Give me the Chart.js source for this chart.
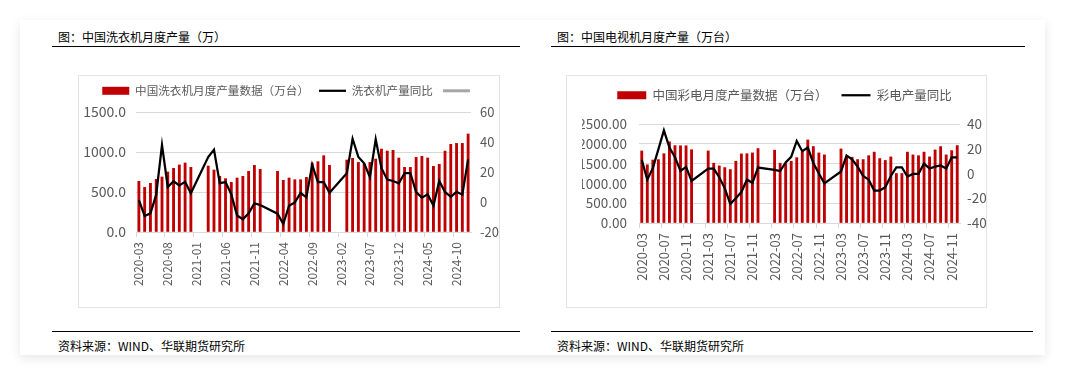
<!DOCTYPE html>
<html>
<head>
<meta charset="utf-8">
<script src="https://cdn.jsdelivr.net/npm/chart.js@4.4.1/dist/chart.umd.min.js"></script>
<style>
    body { margin: 0; width: 1065px; height: 376px; background: #fff; position: relative; overflow: hidden; font-family: "Noto Sans CJK SC", sans-serif; }
    .card { position: absolute; left: 20px; top: 20px; width: 1025px; height: 335px; background: #fff; box-shadow: 0 3px 10px rgba(0, 0, 0, 0.10); }
    .title { position: absolute; font-size: 12px; line-height: 16px; color: #000; white-space: nowrap; }
    .rule { position: absolute; height: 0; border-top: 1.5px solid #000; }
    .frame { position: absolute; border: 1px solid #e3e3e3; box-sizing: border-box; }
    canvas { position: absolute; }
</style>
</head>
<body>
<div class="card"></div>

<div class="title" style="left:58px; top:29px;">图：中国洗衣机月度产量（万）</div>
<div class="rule" style="left:52px; top:46px; width:468px;"></div>
<div class="frame" style="left:78px; top:75px; width:422px; height:233px;"></div>
<canvas id="washer" width="422" height="233" style="left:78px; top:75px;"></canvas>
<div class="rule" style="left:52px; top:331px; width:468px;"></div>
<div class="title" style="left:58px; top:338px;">资料来源：WIND、华联期货研究所</div>

<div class="title" style="left:557px; top:29px;">图：中国电视机月度产量（万台）</div>
<div class="rule" style="left:551px; top:46px; width:474px;"></div>
<div class="frame" style="left:566px; top:75px; width:421px; height:233px;"></div>
<canvas id="tv" width="421" height="233" style="left:566px; top:75px;"></canvas>
<div class="rule" style="left:551px; top:331px; width:482px;"></div>
<div class="title" style="left:557px; top:338px;">资料来源：WIND、华联期货研究所</div>

<script>
// months 2020-03 .. 2024-12 (Jan/Feb of 2021-2023 have no data)
const months = [];
for (let y = 2020; y <= 2024; y++) {
    for (let m = 1; m <= 12; m++) {
        if (y === 2020 && m < 3) continue;
        months.push(y + '-' + String(m).padStart(2, '0'));
    }
}

// washing machine output, 万台
const washerOutput = [
    633, 558, 608, 658, 688, 750, 796, 838, 863, 808,
    null, null, 825, 775, 696, 667, 621, 675, 696, 758, 833, 783,
    null, null, 758, 646, 675, 654, 654, 683, 863, 879, 954, 833,
    null, null, 900, 921, 870, 850, 870, 912, 1037, 1012, 1021, 925,
    808, 808, 933, 946, 925, 821, 846, 1012, 1096, 1108, 1108, 1225
];
// washing machine output yoy, %
const washerYoy = [
    1.3, -9.3, -7.6, 4.9, 38.1, 10.0, 13.8, 11.0, 13.4, 5.8,
    null, null, 30.0, 34.9, 12.6, 13.3, 5.1, -9.0, -11.5, -7.5, -0.9, -2.0,
    null, null, -7.8, -14.7, -2.5, -0.3, 6.0, 3.1, 24.8, 13.3, 13.3, 6.2,
    null, null, 19.1, 42.2, 30.0, 25.8, 16.6, 41.8, 22.5, 15.0, 14.0, 12.4,
    19.2, 19.2, 6.6, 2.9, 5.1, -2.5, 14.0, 6.6, 3.5, 6.8, 4.9, 28.4
];

// colour TV output, 万台
const tvOutput = [
    1820, 1470, 1590, 1600, 1750, 2050, 1955, 1950, 1950, 1850,
    null, null, 1820, 1510, 1443, 1400, 1350, 1560, 1745, 1750, 1770, 1880,
    null, null, 1840, 1510, 1500, 1560, 1650, 1800, 2097, 1930, 1770, 1720,
    null, null, 1870, 1665, 1661, 1602, 1602, 1700, 1790, 1627, 1580, 1669,
    1250, 1250, 1790, 1720, 1700, 1790, 1670, 1846, 1930, 1720, 1829, 1955
];
// colour TV output yoy, %
const tvYoy = [
    11.0, -5.0, 4.3, 19.5, 34.8, 21.0, 13.2, 2.0, 5.3, -6.0,
    null, null, 4.0, 4.0, -3.0, -12.0, -24.5, -20.0, -15.0, -5.0, -7.5, 4.8,
    null, null, 3.0, 2.0, 9.0, 13.5, 26.3, 18.0, 21.0, 8.5, 0.0, -8.0,
    null, null, 1.6, 14.5, 11.5, 5.6, -2.0, -5.0, -13.8, -13.8, -11.0, -2.0,
    5.0, 5.0, -2.4, -0.3, -0.3, 8.0, 4.0, 5.5, 6.5, 4.0, 13.0, 13.0
];

const washerLeftTicks = [0, 500, 1000, 1500];
const washerRightTicks = [-20, 0, 20, 40, 60];
const tvLeftTicks = [0, 500, 1000, 1500, 2000, 2500];
const tvRightTicks = [-40, -20, 0, 20, 40];

const textColor = '#595959';
const gridColor = '#d9d9d9';
const cjk = '"Noto Sans CJK SC", sans-serif';

// keeps the legend block at a fixed height so the plot starts where it should
const legendBox = {
    id: 'legendBox',
    afterInit(chart, args, opts) {
        const lg = chart.legend;
        if (!lg) return;
        const fit = lg.fit;
        lg.fit = function () {
            fit.call(this);
            this.height = opts.height;
        };
    }
};

// legend in dataset order, bars as a box, lines as a stroke
function legendLabels(chart) {
    const items = Chart.defaults.plugins.legend.labels.generateLabels(chart);
    items.sort((a, b) => a.datasetIndex - b.datasetIndex);
    items.forEach((it) => { it.pointStyle = it.datasetIndex === 0 ? 'rect' : 'line'; });
    return items;
}

const washerChart = new Chart(document.getElementById('washer'), {
    type: 'bar',
    data: {
        labels: months,
        datasets: [{
            label: '中国洗衣机月度产量数据（万台）',
            data: washerOutput,
            backgroundColor: '#c00000',
            barThickness: 2.2,
            yAxisID: 'y',
            order: 2
        }, {
            type: 'line',
            label: '洗衣机产量同比',
            data: washerYoy,
            borderColor: '#000000',
            backgroundColor: '#000000',
            borderWidth: 2.25,
            pointRadius: 0,
            tension: 0,
            spanGaps: true,
            yAxisID: 'y1',
            order: 1
        }, {
            type: 'line',
            label: '',
            data: [],
            borderColor: '#a6a6a6',
            backgroundColor: '#a6a6a6',
            borderWidth: 3,
            pointRadius: 0,
            yAxisID: 'y1',
            order: 0
        }]
    },
    plugins: [legendBox],
    options: {
        responsive: false,
        animation: false,
        layout: { padding: { top: 0, left: 0, right: 0, bottom: 0 } },
        plugins: {
            legendBox: { height: 37 },
            legend: {
                position: 'top',
                labels: {
                    usePointStyle: true,
                    pointStyleWidth: 27,
                    boxHeight: 8,
                    padding: 10,
                    color: textColor,
                    font: { family: cjk, size: 11.6 },
                    generateLabels: legendLabels
                }
            },
            tooltip: { enabled: false }
        },
        scales: {
            x: {
                afterFit: (s) => { s.height = 76; },
                grid: {
                    drawOnChartArea: false,
                    tickLength: 5,
                    color: (c) => (c.index % 5 === 0 ? gridColor : 'rgba(0,0,0,0)')
                },
                border: { display: true, color: gridColor },
                ticks: {
                    autoSkip: false,
                    minRotation: 90,
                    maxRotation: 90,
                    padding: 5,
                    color: textColor,
                    font: { family: cjk, size: 12 },
                    callback: (v, i) => (i % 5 === 0 ? months[i] : '')
                }
            },
            y: {
                position: 'left',
                min: washerLeftTicks[0],
                max: washerLeftTicks[washerLeftTicks.length - 1],
                afterFit: (s) => { s.width = 58; },
                afterBuildTicks: (s) => { s.ticks = washerLeftTicks.map(v => ({ value: v })); },
                grid: { color: gridColor, drawTicks: false },
                border: { display: false },
                ticks: {
                    padding: 10,
                    color: textColor,
                    font: { family: cjk, size: 14 },
                    callback: (v) => Number(v).toFixed(1)
                }
            },
            y1: {
                position: 'right',
                min: washerRightTicks[0],
                max: washerRightTicks[washerRightTicks.length - 1],
                afterFit: (s) => { s.width = 29; },
                afterBuildTicks: (s) => { s.ticks = washerRightTicks.map(v => ({ value: v })); },
                grid: { display: false, drawTicks: false },
                border: { display: false },
                ticks: {
                    padding: 9,
                    color: textColor,
                    font: { family: cjk, size: 13 }
                }
            }
        }
    }
});

const tvChart = new Chart(document.getElementById('tv'), {
    type: 'bar',
    data: {
        labels: months,
        datasets: [{
            label: '中国彩电月度产量数据（万台）',
            data: tvOutput,
            backgroundColor: '#c00000',
            barThickness: 2.2,
            yAxisID: 'y',
            order: 2
        }, {
            type: 'line',
            label: '彩电产量同比',
            data: tvYoy,
            borderColor: '#000000',
            backgroundColor: '#000000',
            borderWidth: 2.25,
            pointRadius: 0,
            tension: 0,
            spanGaps: true,
            yAxisID: 'y1',
            order: 1
        }]
    },
    plugins: [legendBox],
    options: {
        responsive: false,
        animation: false,
        layout: { padding: { top: 0, left: 16, right: 0, bottom: 0 } },
        plugins: {
            legendBox: { height: 49 },
            legend: {
                position: 'top',
                labels: {
                    usePointStyle: true,
                    pointStyleWidth: 29,
                    boxHeight: 8,
                    padding: 14,
                    color: textColor,
                    font: { family: cjk, size: 12.5 },
                    generateLabels: legendLabels
                }
            },
            tooltip: { enabled: false }
        },
        scales: {
            x: {
                afterFit: (s) => { s.height = 85; },
                grid: {
                    drawOnChartArea: false,
                    tickLength: 5,
                    color: (c) => (c.index % 4 === 0 ? gridColor : 'rgba(0,0,0,0)')
                },
                border: { display: true, color: gridColor },
                ticks: {
                    autoSkip: false,
                    minRotation: 90,
                    maxRotation: 90,
                    padding: 5,
                    color: textColor,
                    font: { family: cjk, size: 13 },
                    callback: (v, i) => (i % 4 === 0 ? months[i] : '')
                }
            },
            y: {
                position: 'left',
                min: tvLeftTicks[0],
                max: tvLeftTicks[tvLeftTicks.length - 1],
                afterFit: (s) => { s.width = 57; },
                afterBuildTicks: (s) => { s.ticks = tvLeftTicks.map(v => ({ value: v })); },
                grid: { color: gridColor, drawTicks: false },
                border: { display: false },
                ticks: {
                    padding: 12,
                    color: textColor,
                    font: { family: cjk, size: 13.5 },
                    callback: (v) => Number(v).toFixed(2)
                }
            },
            y1: {
                position: 'right',
                min: tvRightTicks[0],
                max: tvRightTicks[tvRightTicks.length - 1],
                afterFit: (s) => { s.width = 27; },
                afterBuildTicks: (s) => { s.ticks = tvRightTicks.map(v => ({ value: v })); },
                grid: { display: false, drawTicks: false },
                border: { display: false },
                ticks: {
                    padding: 7,
                    color: textColor,
                    font: { family: cjk, size: 13.5 }
                }
            }
        }
    }
});
</script>
</body>
</html>
